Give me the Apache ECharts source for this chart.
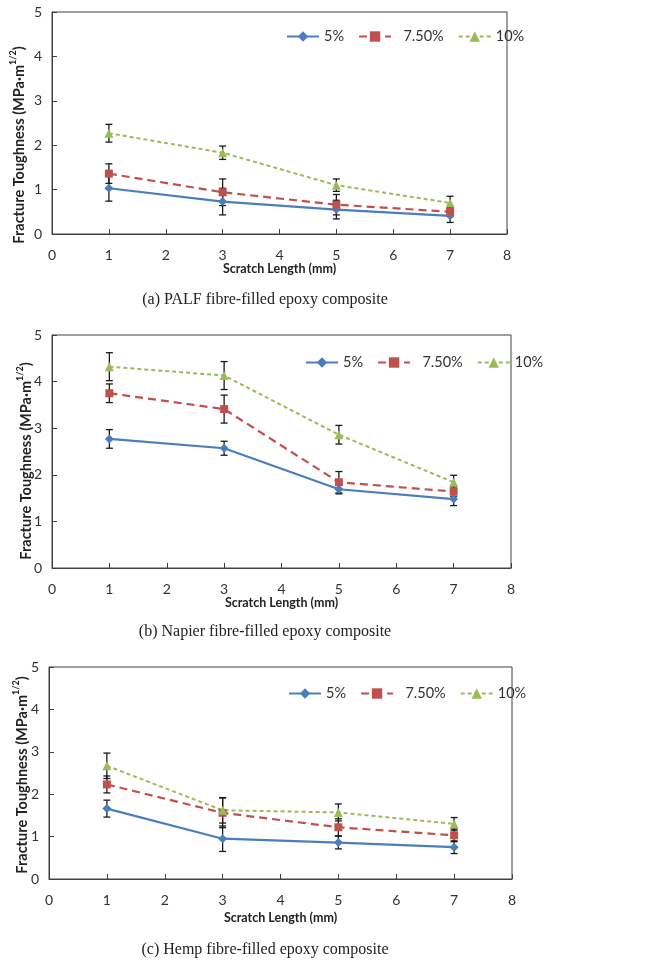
<!DOCTYPE html>
<html><head><meta charset="utf-8">
<script src="https://cdn.jsdelivr.net/npm/echarts@6/dist/echarts.min.js"></script>
<style>html,body{margin:0;padding:0;background:#fff}#c{width:664px;height:964px}</style>
</head><body><div id="c"></div>
<script>
// Data
const scratchLength = [1, 3, 5, 7];
const seriesNames = ['5%', '7.50%', '10%'];
const xTicks = [0, 1, 2, 3, 4, 5, 6, 7, 8];
const yTicks = [0, 1, 2, 3, 4, 5];

const palf5 = [1.03, 0.73, 0.55, 0.41];
const palf75 = [1.36, 0.94, 0.66, 0.50];
const palf10 = [2.27, 1.83, 1.10, 0.70];
const palf5Err = [0.29, 0.30, 0.21, 0.15];
const palf75Err = [0.22, 0.30, 0.23, 0.10];
const palf10Err = [0.20, 0.15, 0.14, 0.15];

const napier5 = [2.77, 2.57, 1.69, 1.48];
const napier75 = [3.75, 3.41, 1.84, 1.64];
const napier10 = [4.32, 4.13, 2.86, 1.84];
const napier5Err = [0.20, 0.15, 0.10, 0.14];
const napier75Err = [0.20, 0.30, 0.23, 0.10];
const napier10Err = [0.30, 0.30, 0.20, 0.15];

const hemp5 = [1.66, 0.95, 0.86, 0.75];
const hemp75 = [2.23, 1.56, 1.22, 1.03];
const hemp10 = [2.67, 1.62, 1.57, 1.30];
const hemp5Err = [0.20, 0.30, 0.15, 0.15];
const hemp75Err = [0.20, 0.35, 0.20, 0.15];
const hemp10Err = [0.30, 0.30, 0.20, 0.15];

const captions = ['(a) PALF fibre-filled epoxy composite', '(b) Napier fibre-filled epoxy composite', '(c) Hemp fibre-filled epoxy composite'];
const xName = 'Scratch Length (mm)';

// Layout
const panels = [
  {grid:{left:52, top:12, width:455, height:222}, legend:{left:281, top:24}, yName:{x:18, y:145}, xNameGap:26, caption:{x:265, y:300},
   vals:[palf5, palf75, palf10], errs:[palf5Err, palf75Err, palf10Err]},
  {grid:{left:52, top:335, width:459, height:233}, legend:{left:300, top:350}, yName:{x:25, y:461}, xNameGap:23, caption:{x:265, y:632},
   vals:[napier5, napier75, napier10], errs:[napier5Err, napier75Err, napier10Err]},
  {grid:{left:49, top:667, width:463, height:212}, legend:{left:283, top:681}, yName:{x:21, y:775}, xNameGap:32, caption:{x:265, y:950},
   vals:[hemp5, hemp75, hemp10], errs:[hemp5Err, hemp75Err, hemp10Err]}
];

const styles = [
  {color:'#4A7EBB', symbol:'diamond', size:9, type:'solid', width:2.2},
  {color:'#C0504D', symbol:'rect', size:8, type:[8,5], width:2.2},
  {color:'#9BBB59', symbol:'triangle', size:9, type:[4,3], width:2}
];

const font = 'Lato, "Liberation Sans", sans-serif';
const axisColor = '#404040';

function renderErr(params, api) {
  const x = api.value(0), y = api.value(1), e = api.value(2);
  const t = api.coord([x, y + e]), b = api.coord([x, y - e]);
  const cap = 3.5;
  const st = {stroke:'#1a1a1a', lineWidth:1.3};
  return {type:'group', children:[
    {type:'line', shape:{x1:t[0], y1:t[1], x2:b[0], y2:b[1]}, style:st},
    {type:'line', shape:{x1:t[0]-cap, y1:t[1], x2:t[0]+cap, y2:t[1]}, style:st},
    {type:'line', shape:{x1:b[0]-cap, y1:b[1], x2:b[0]+cap, y2:b[1]}, style:st}
  ]};
}

const option = {
  backgroundColor:'#fff',
  animation:false,
  grid:[], xAxis:[], yAxis:[], legend:[], series:[], graphic:[]
};

panels.forEach((p, i) => {
  option.grid.push(Object.assign({show:true, borderColor:axisColor, borderWidth:1, backgroundColor:'transparent'}, p.grid));
  option.xAxis.push({
    type:'value', gridIndex:i, min:xTicks[0], max:xTicks[xTicks.length-1], interval:1,
    name:xName, nameLocation:'middle', nameGap:p.xNameGap,
    nameTextStyle:{fontFamily:font, fontSize:12.5, fontWeight:'bold', color:'#222'},
    axisLine:{lineStyle:{color:axisColor, width:1}},
    axisTick:{show:true, inside:true, length:5, lineStyle:{color:axisColor}},
    axisLabel:{fontFamily:font, fontSize:14, color:'#333', margin:14},
    splitLine:{show:false}
  });
  option.yAxis.push({
    type:'value', gridIndex:i, min:yTicks[0], max:yTicks[yTicks.length-1], interval:1,
    axisLine:{show:true, lineStyle:{color:axisColor, width:1}},
    axisTick:{show:true, inside:true, length:5, lineStyle:{color:axisColor}},
    axisLabel:{fontFamily:font, fontSize:14, color:'#333', margin:10},
    splitLine:{show:false}
  });
  option.legend.push({
    data:seriesNames, left:p.legend.left, top:p.legend.top, orient:'horizontal',
    itemWidth:32, itemHeight:13, itemGap:14, selectedMode:false,
    textStyle:{fontFamily:font, fontSize:14.5, color:'#333'},
    formatter: n => n === '7.50%' ? '  7.50%' : n
  });
  p.vals.forEach((vals, k) => {
    option.series.push({
      type:'custom', xAxisIndex:i, yAxisIndex:i, z:3,
      renderItem:renderErr, encode:{x:0, y:1}, silent:true,
      data:scratchLength.map((x, j) => [x, vals[j], p.errs[k][j]])
    });
  });
  p.vals.forEach((vals, k) => {
    const s = styles[k];
    option.series.push({
      type:'line', name:seriesNames[k], xAxisIndex:i, yAxisIndex:i, z:4,
      data:scratchLength.map((x, j) => [x, vals[j]]),
      symbol:s.symbol, symbolSize:s.size, showSymbol:true,
      lineStyle:{color:s.color, width:s.width, type:s.type},
      itemStyle:{color:s.color, borderWidth:0}
    });
  });
  option.graphic.push({
    type:'text', x:p.yName.x, y:p.yName.y, rotation:Math.PI/2,
    style:{
      text:'{a|Fracture Toughness (MPa·m}{s|1/2}{a|)}',
      align:'center', verticalAlign:'middle',
      rich:{
        a:{fontFamily:font, fontSize:14.5, fontWeight:'bold', fill:'#222', lineHeight:18, verticalAlign:'bottom'},
        s:{fontFamily:font, fontSize:9, fontWeight:'bold', fill:'#222', lineHeight:18, verticalAlign:'top', padding:[0,0,7,0]}
      }
    }
  });
  option.graphic.push({
    type:'text', x:p.caption.x, y:p.caption.y,
    style:{text:captions[i], align:'center', verticalAlign:'middle',
      fontFamily:'"Liberation Serif", "Times New Roman", serif', fontSize:16, fill:'#222'}
  });
});

const chart = echarts.init(document.getElementById('c'), null, {renderer:'canvas'});
chart.setOption(option);
</script>
</body></html>
